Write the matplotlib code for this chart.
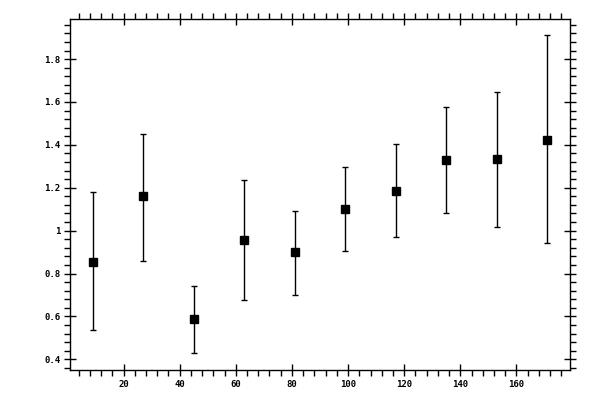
import matplotlib
matplotlib.use("Agg")
import matplotlib.pyplot as plt
from matplotlib.ticker import MultipleLocator, FuncFormatter

x = [9, 27, 45, 63, 81, 99, 117, 135, 153, 171]
y = [0.856, 1.161, 0.586, 0.958, 0.898, 1.102, 1.186, 1.330, 1.335, 1.423]
y_upper = [1.178, 1.449, 0.744, 1.237, 1.093, 1.298, 1.405, 1.577, 1.647, 1.913]
y_lower = [0.535, 0.860, 0.428, 0.676, 0.698, 0.907, 0.972, 1.084, 1.019, 0.940]

err_lo = [v - l for v, l in zip(y, y_lower)]
err_hi = [u - v for v, u in zip(y, y_upper)]

fig = plt.figure(figsize=(6, 4), dpi=100)
ax = fig.add_axes([70/600, 30/400, 500/600, 351/400])

ax.errorbar(x, y, yerr=[err_lo, err_hi], fmt='s', color='black', ms=5.2,
            elinewidth=1.0, capsize=2.3, capthick=1.0, mec='black', mfc='black')

ax.set_xlim(0.9, 179.1)
ax.set_ylim(0.35, 1.987)

ax.xaxis.set_major_locator(MultipleLocator(20))
ax.xaxis.set_minor_locator(MultipleLocator(4))
ax.yaxis.set_major_locator(MultipleLocator(0.2))
ax.yaxis.set_minor_locator(MultipleLocator(0.04))
ax.yaxis.set_major_formatter(FuncFormatter(lambda v, p: f"{v:g}"))

for s in ax.spines.values():
    s.set_linewidth(1.0)

ax.tick_params(which='major', direction='inout', length=8, width=1.0,
               top=True, right=True, labelsize=6.5, pad=3)
ax.tick_params(which='minor', direction='out', length=4, width=1.0,
               top=True, right=True)
for lab in ax.get_xticklabels() + ax.get_yticklabels():
    lab.set_family('DejaVu Sans Mono')
    lab.set_fontweight('semibold')

fig.savefig("out.png", dpi=100)
